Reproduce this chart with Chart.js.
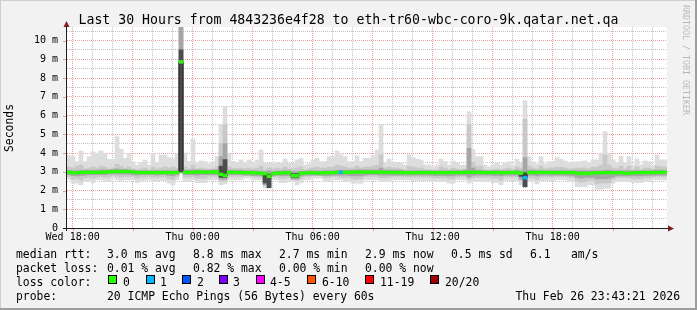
<!DOCTYPE html>
<html>
<head>
<meta charset="utf-8">
<script src="https://cdn.jsdelivr.net/npm/chart.js@4/dist/chart.umd.min.js"></script>
<style>
  html, body { margin: 0; padding: 0; background: #f2f2f2; }
</style>
</head>
<body>
<canvas id="smoke" width="697" height="310"></canvas>
<script>
// 150 steps of 12 minutes, Wed 17:43 -> Thu 23:43 (hours counted from Wed 00:00)
const startHour = 17 + 43 / 60;
const stepHours = 0.2;

// outer smoke (ms)
const smokeHi = [
  3.86,3.81,3.54,4.11,3.54,3.80,4.06,3.99,4.11,3.99,3.67,3.67,4.87,4.20,3.72,3.99,3.49,3.36,3.49,3.63,3.36,3.99,3.49,3.90,3.90,
  3.75,3.70,3.95,10.7,4.00,3.55,4.75,3.45,3.58,3.54,3.42,3.50,3.81,5.50,6.50,3.99,3.55,3.45,3.63,3.45,3.63,3.45,3.63,4.16,3.45,
  3.45,3.45,3.50,3.45,3.68,3.45,3.45,3.63,3.72,3.36,3.42,3.63,3.72,3.54,3.54,3.81,3.81,4.11,3.90,3.81,3.54,3.54,3.86,3.54,3.72,
  3.72,3.85,4.16,5.49,3.49,3.68,3.49,3.49,3.45,3.36,3.90,3.76,3.68,3.63,3.36,3.36,3.27,3.36,3.68,3.54,3.36,3.58,3.45,3.36,3.36,
  6.20,4.20,3.81,3.81,3.36,3.27,3.36,3.45,3.36,3.45,3.54,3.36,3.67,3.45,6.80,3.81,3.49,3.42,3.81,3.42,3.54,3.54,3.76,3.67,3.58,
  3.49,3.49,3.54,3.54,3.58,3.45,3.63,3.63,3.99,5.14,3.99,3.63,3.45,3.84,3.45,3.81,3.36,3.68,3.36,3.58,3.54,3.36,3.90,3.63,3.63
];
const smokeLo = [
  2.60,2.39,2.39,2.30,2.48,2.48,2.42,2.57,2.57,2.48,2.48,2.66,2.57,2.52,2.57,2.57,2.57,2.42,2.53,2.53,2.57,2.48,2.48,2.53,2.53,
  2.39,2.30,2.57,2.92,2.48,2.48,2.57,2.42,2.42,2.42,2.57,2.57,2.57,2.30,2.35,2.57,2.57,2.57,2.57,2.66,2.66,2.57,2.57,2.57,2.12,
  2.12,2.57,2.57,2.42,2.42,2.48,2.48,2.30,2.40,2.57,2.57,2.66,2.66,2.66,2.48,2.48,2.57,2.57,2.57,2.48,2.48,2.39,2.39,2.39,2.57,
  2.57,2.57,2.57,2.48,2.48,2.48,2.57,2.57,2.57,2.57,2.57,2.53,2.53,2.53,2.53,2.53,2.48,2.48,2.48,2.48,2.39,2.39,2.57,2.57,2.57,
  2.39,2.48,2.48,2.48,2.48,2.48,2.42,2.42,2.30,2.53,2.53,2.53,2.53,2.30,2.14,2.48,2.48,2.35,2.53,2.53,2.53,2.53,2.57,2.57,2.57,
  2.48,2.48,2.21,2.21,2.21,2.30,2.30,2.07,2.07,2.12,2.12,2.39,2.48,2.48,2.48,2.48,2.42,2.42,2.42,2.48,2.48,2.57,2.57,2.57,2.57
];
// middle smoke
const midHi = [
  3.25,3.20,3.30,3.35,3.15,3.20,3.25,3.20,3.30,3.25,3.15,3.20,3.40,3.30,3.20,3.25,3.15,3.10,3.15,3.20,3.10,3.25,3.15,3.20,3.25,
  3.20,3.25,3.20,10.7,3.25,3.15,3.35,3.15,3.20,3.15,3.10,3.15,3.25,4.50,5.50,3.25,3.20,3.15,3.20,3.15,3.20,3.15,3.20,3.30,3.10,
  3.20,3.15,3.20,3.15,3.25,3.15,3.15,3.20,3.25,3.10,3.15,3.20,3.25,3.20,3.20,3.25,3.25,3.35,3.30,3.25,3.20,3.20,3.30,3.20,3.25,
  3.25,3.30,3.35,3.90,3.20,3.25,3.20,3.20,3.15,3.10,3.30,3.25,3.20,3.20,3.10,3.10,3.05,3.10,3.25,3.20,3.10,3.20,3.15,3.10,3.15,
  5.50,3.50,3.30,3.30,3.10,3.05,3.10,3.15,3.10,3.15,3.20,3.10,3.25,3.20,5.80,3.30,3.20,3.15,3.30,3.15,3.20,3.20,3.25,3.25,3.20,
  3.15,3.15,3.20,3.20,3.20,3.15,3.25,3.25,3.35,3.90,3.35,3.20,3.15,3.30,3.15,3.30,3.10,3.25,3.10,3.20,3.20,3.10,3.30,3.25,3.25
];
const midLo = [
  2.75,2.60,2.62,2.55,2.68,2.70,2.65,2.72,2.75,2.70,2.72,2.80,2.75,2.72,2.75,2.75,2.75,2.65,2.72,2.72,2.75,2.70,2.70,2.72,2.72,
  2.62,2.58,2.75,2.95,2.70,2.70,2.75,2.65,2.65,2.65,2.75,2.75,2.75,2.50,2.50,2.75,2.75,2.75,2.75,2.80,2.80,2.75,2.72,2.72,2.30,
  2.25,2.72,2.75,2.65,2.65,2.70,2.62,2.55,2.62,2.75,2.75,2.80,2.80,2.80,2.70,2.70,2.75,2.75,2.70,2.70,2.70,2.60,2.60,2.62,2.75,
  2.75,2.75,2.75,2.68,2.68,2.70,2.75,2.75,2.75,2.72,2.72,2.72,2.72,2.72,2.72,2.72,2.68,2.68,2.68,2.68,2.62,2.62,2.72,2.75,2.75,
  2.60,2.68,2.70,2.70,2.70,2.70,2.65,2.65,2.55,2.72,2.72,2.72,2.72,2.55,2.30,2.68,2.68,2.58,2.72,2.72,2.72,2.72,2.75,2.75,2.75,
  2.70,2.70,2.50,2.45,2.48,2.55,2.52,2.35,2.40,2.40,2.42,2.60,2.68,2.68,2.70,2.68,2.62,2.62,2.62,2.68,2.68,2.72,2.75,2.75,2.75
];
// dense smoke close to the median
const coreHi = [
  3.08,3.05,3.05,3.08,3.08,3.08,3.08,3.08,3.10,3.10,3.10,3.12,3.15,3.12,3.12,3.10,3.08,3.05,3.05,3.05,3.05,3.05,3.05,3.05,3.05,
  3.05,3.05,3.05,10.7,3.08,3.08,3.10,3.10,3.08,3.08,3.10,3.10,3.10,3.80,4.50,3.08,3.08,3.08,3.08,3.05,3.05,3.05,3.03,3.03,3.00,
  3.05,3.00,3.03,3.03,3.05,3.05,3.00,3.00,3.03,3.03,3.05,3.05,3.03,3.03,3.05,3.05,3.05,3.08,3.08,3.08,3.08,3.08,3.10,3.10,3.10,
  3.10,3.10,3.10,3.20,3.08,3.08,3.08,3.08,3.08,3.05,3.05,3.05,3.05,3.05,3.05,3.05,3.05,3.05,3.05,3.05,3.05,3.05,3.05,3.05,3.08,
  4.25,3.20,3.08,3.08,3.05,3.05,3.05,3.05,3.05,3.05,3.05,3.05,3.08,3.05,3.75,3.08,3.08,3.05,3.05,3.05,3.05,3.05,3.05,3.05,3.05,
  3.05,3.05,3.05,3.05,3.05,3.05,3.05,3.05,3.05,3.08,3.08,3.05,3.05,3.05,3.05,3.05,3.05,3.05,3.05,3.05,3.05,3.08,3.08,3.08,3.08
];
const coreLo = [
  2.85,2.80,2.78,2.80,2.82,2.85,2.85,2.85,2.85,2.85,2.88,2.88,2.88,2.88,2.88,2.88,2.85,2.82,2.85,2.85,2.85,2.85,2.82,2.85,2.85,
  2.80,2.78,2.85,2.95,2.85,2.85,2.85,2.82,2.85,2.85,2.85,2.85,2.85,2.60,2.60,2.85,2.85,2.85,2.85,2.82,2.82,2.80,2.80,2.78,2.30,
  2.15,2.78,2.82,2.80,2.80,2.80,2.60,2.60,2.78,2.82,2.82,2.82,2.82,2.82,2.80,2.80,2.82,2.82,2.82,2.82,2.80,2.78,2.78,2.78,2.82,
  2.85,2.85,2.85,2.82,2.82,2.82,2.82,2.82,2.82,2.82,2.82,2.82,2.82,2.82,2.82,2.82,2.80,2.80,2.80,2.80,2.78,2.78,2.82,2.82,2.82,
  2.72,2.80,2.82,2.82,2.82,2.82,2.80,2.80,2.78,2.82,2.82,2.82,2.82,2.60,2.20,2.82,2.82,2.78,2.82,2.82,2.82,2.82,2.82,2.82,2.82,
  2.80,2.78,2.70,2.65,2.70,2.70,2.70,2.62,2.62,2.62,2.65,2.72,2.78,2.78,2.78,2.78,2.78,2.78,2.78,2.80,2.80,2.82,2.82,2.82,2.82
];
// darkest smoke, only where it shows: [step, lo, hi]
const deepBands = [[28, 3.0, 9.5], [38, 2.7, 3.3], [39, 2.7, 3.65], [49, 2.4, 2.92], [50, 2.15, 2.85],
  [56, 2.7, 2.9], [57, 2.7, 2.9], [113, 2.75, 2.95], [114, 2.2, 2.95]];

// median rtt (ms)
const medianRtt = [
  2.97,2.95,2.95,2.96,2.97,2.97,2.97,2.97,2.97,2.98,2.99,
  3.01,3.01,3.01,3.01,3.00,2.99,
  2.96,2.96,2.96,2.96,2.96,2.96,2.96,2.96,2.96,2.96,2.96,
  8.86,
  2.97,2.97,2.97,2.99,2.99,2.97,2.97,2.99,2.99,
  2.86,2.80,
  2.97,2.97,2.97,2.97,2.95,2.95,2.95,2.93,2.93,
  2.90,2.75,2.90,
  2.93,2.93,2.95,2.95,
  2.79,2.79,
  2.93,2.93,2.95,2.95,2.93,2.93,2.95,2.95,2.95,2.97,2.97,
  2.97,2.97,2.97,2.98,2.98,2.98,2.98,2.98,2.98,2.97,2.97,2.97,2.96,2.96,2.96,2.95,2.95,2.95,2.95,2.96,2.96,2.96,2.96,2.95,2.95,2.95,2.96,2.96,2.96,2.96,2.97,
  2.97,2.97,2.97,2.97,2.96,2.96,2.96,2.96,2.95,2.95,2.96,2.96,2.97,2.92,
  2.68,
  2.96,2.96,2.96,2.97,2.97,2.96,2.96,2.96,2.96,2.96,
  2.96,2.96,2.93,2.90,2.93,2.90,2.93,2.95,2.95,2.95,2.95,2.95,2.95,2.95,2.92,2.92,2.95,2.95,2.96,2.96,2.96,2.96,2.96,2.97,2.97
];
// lost pings per step, where not zero: [step, lost]
const lostPings = [[68, 1], [114, 1]];

const lossLabels = ['0', '1', '2', '3', '4-5', '6-10', '11-19', '20/20'];
const lossColors = ['#26ff00', '#00b8ff', '#0059ff', '#7e00ff', '#ff00ff', '#ff5500', '#ff0000', '#a10000'];

const hourTicks = [];
for (let h = 18; h <= 47; h++) hourTicks.push(h);
const hourLabels = {18: 'Wed 18:00', 24: 'Thu 00:00', 30: 'Thu 06:00', 36: 'Thu 12:00', 42: 'Thu 18:00'};
const msTicks = [];
for (let v = 0; v <= 10.5; v += 0.5) msTicks.push(v);

const times = medianRtt.map((_, i) => startHour + stepHours * i + stepHours / 2);
const lossAt = medianRtt.map(() => 0);
lostPings.forEach(([i, n]) => { lossAt[i] = n; });
function lossColor(n) {
  if (n === 0) return lossColors[0];
  if (n <= 3) return lossColors[n];
  if (n <= 5) return lossColors[4];
  if (n <= 10) return lossColors[5];
  if (n <= 19) return lossColors[6];
  return lossColors[7];
}

const band = (lo, hi) => times.map((t, i) => ({x: t, y: [lo[i], hi[i]]}));
const smokeBar = (data, color, order) => ({
  type: 'bar', data, backgroundColor: color, borderWidth: 0, grouped: false,
  barPercentage: 1, categoryPercentage: 1, order
});

const majorGrid = 'rgba(222,79,79,0.55)';
const minorGrid = 'rgba(143,143,143,0.55)';
const mono = '"DejaVu Sans Mono", "Liberation Mono", monospace';

const frame = {
  id: 'frame',
  beforeDraw(chart) {
    const {ctx, chartArea: a} = chart;
    ctx.save();
    ctx.fillStyle = '#f2f2f2';
    ctx.fillRect(0, 0, chart.width, chart.height);
    ctx.fillStyle = '#ffffff';
    ctx.fillRect(a.left, a.top, a.right - a.left, a.bottom - a.top);
    ctx.restore();
  },
  afterDraw(chart) {
    const {ctx, chartArea: a} = chart;
    const xs = chart.scales.x, ys = chart.scales.y;
    ctx.save();

    // tick stubs outside the plot
    ctx.lineWidth = 1;
    ctx.strokeStyle = majorGrid;
    hourTicks.filter(h => h % 3 === 0).forEach(h => {
      const x = Math.round(xs.getPixelForValue(h)) + 0.5;
      ctx.beginPath(); ctx.moveTo(x, a.bottom); ctx.lineTo(x, a.bottom + 3); ctx.stroke();
    });
    msTicks.filter(v => v % 1 === 0 && v > 0).forEach(v => {
      const y = Math.round(ys.getPixelForValue(v)) + 0.5;
      ctx.beginPath(); ctx.moveTo(a.left - 4, y); ctx.lineTo(a.left, y); ctx.stroke();
    });

    // axes and arrows
    ctx.strokeStyle = '#1f1f1f';
    ctx.beginPath();
    ctx.moveTo(a.left - 0.5, a.bottom + 3); ctx.lineTo(a.left - 0.5, a.top - 3);
    ctx.moveTo(a.left - 4, a.bottom + 0.5); ctx.lineTo(a.right + 2, a.bottom + 0.5);
    ctx.stroke();
    ctx.fillStyle = '#801f1f';
    ctx.beginPath();
    ctx.moveTo(a.left - 0.5, a.top - 6); ctx.lineTo(a.left - 3.5, a.top); ctx.lineTo(a.left + 2.5, a.top);
    ctx.closePath(); ctx.fill();
    ctx.beginPath();
    ctx.moveTo(a.right + 7, a.bottom + 0.5); ctx.lineTo(a.right + 1, a.bottom - 2.5); ctx.lineTo(a.right + 1, a.bottom + 3.5);
    ctx.closePath(); ctx.fill();

    // title
    ctx.fillStyle = '#000';
    ctx.textBaseline = 'alphabetic';
    ctx.textAlign = 'center';
    ctx.font = '13.2px ' + mono;
    ctx.fillText('Last 30 Hours from 4843236e4f28 to eth-tr60-wbc-coro-9k.qatar.net.qa', 348.5, 24);

    // vertical axis title
    ctx.save();
    ctx.font = '11.4px ' + mono;
    ctx.translate(10.5, 128);
    ctx.rotate(-Math.PI / 2);
    ctx.textBaseline = 'middle';
    ctx.fillText('Seconds', 0, 0);
    ctx.restore();

    // watermark
    ctx.save();
    ctx.font = '8.3px ' + mono;
    ctx.fillStyle = 'rgba(0,0,0,0.25)';
    ctx.translate(685, 5);
    ctx.rotate(Math.PI / 2);
    ctx.textAlign = 'left';
    ctx.textBaseline = 'middle';
    ctx.fillText('RRDTOOL / TOBI OETIKER', 0, 0);
    ctx.restore();

    // legend
    ctx.font = '11.4px ' + mono;
    ctx.textAlign = 'left';
    const put = (t, x, y) => ctx.fillText(t, x, y);
    put('median rtt:', 16, 258);
    put('3.0 ms avg', 107, 258); put('8.8 ms max', 193, 258); put('2.7 ms min', 279, 258);
    put('2.9 ms now', 365, 258); put('0.5 ms sd', 451, 258); put('6.1', 530, 258); put('am/s', 571, 258);
    put('packet loss:', 16, 272);
    put('0.01 % avg', 107, 272); put('0.82 % max', 193, 272); put('0.00 % min', 279, 272); put('0.00 % now', 365, 272);
    put('loss color:', 16, 286);
    const boxX = [108, 146, 182, 219, 256, 307, 365, 430];
    const textX = [123, 160, 197, 233, 270, 322, 380, 445];
    lossLabels.forEach((l, i) => {
      ctx.fillStyle = '#000';
      ctx.fillRect(boxX[i], 275, 9, 9);
      ctx.fillStyle = lossColors[i];
      ctx.fillRect(boxX[i] + 1, 276, 7, 7);
      ctx.fillStyle = '#000';
      put(l, textX[i], 286);
    });
    put('probe:', 16, 299.5);
    put('20 ICMP Echo Pings (56 Bytes) every 60s', 107, 299.5);
    ctx.textAlign = 'right';
    put('Thu Feb 26 23:43:21 2026', 680, 299.5);

    // bevel
    ctx.fillStyle = '#cfcfcf';
    ctx.fillRect(0, 0, chart.width, 1);
    ctx.fillRect(0, 0, 1, chart.height);
    ctx.fillStyle = '#9e9e9e';
    ctx.fillRect(chart.width - 2, 0, 2, chart.height);
    ctx.fillRect(0, chart.height - 2, chart.width, 2);
    ctx.restore();
  }
};

const ctx = document.getElementById('smoke').getContext('2d');
const chart = new Chart(ctx, {
  data: {
    datasets: [
      {
        type: 'bar', label: 'median',
        data: times.map((t, i) => ({x: t, y: [medianRtt[i] - 0.07, medianRtt[i] + 0.07]})),
        backgroundColor: lossAt.map(lossColor), borderWidth: 0, grouped: false,
        barPercentage: 1, categoryPercentage: 1, order: 0
      },
      {
        type: 'line', label: 'median line',
        data: times.map((t, i) => ({x: t, y: medianRtt[i]})),
        borderColor: '#202020', borderWidth: 1, pointRadius: 0, stepped: 'middle', fill: false, order: 1
      },
      smokeBar(deepBands.map(([i, lo, hi]) => ({x: times[i], y: [lo, hi]})), '#4d4d4d', 2),
      smokeBar(band(coreLo, coreHi), '#a6a6a6', 3),
      smokeBar(band(midLo, midHi), '#c8c8c8', 4),
      smokeBar(band(smokeLo, smokeHi), '#dddddd', 5)
    ]
  },
  options: {
    responsive: false,
    animation: false,
    devicePixelRatio: 1,
    layout: {padding: {top: 27, right: 30, left: 0, bottom: 0}},
    plugins: {legend: {display: false}, tooltip: {enabled: false}},
    scales: {
      x: {
        type: 'linear',
        offset: false,
        min: startHour,
        max: startHour + 30,
        afterBuildTicks: s => { s.ticks = hourTicks.map(v => ({value: v})); },
        afterFit: s => { s.height = 82; },
        grid: {
          color: c => (c.tick && c.tick.value % 3 === 0) ? majorGrid : minorGrid,
          lineWidth: 1, drawTicks: false, offset: false
        },
        border: {display: false, dash: [1, 1]},
        ticks: {
          autoSkip: false, maxRotation: 0, padding: 3, color: '#000',
          font: {family: mono, size: 10},
          callback: v => hourLabels[v] || ''
        }
      },
      y: {
        type: 'linear',
        min: 0,
        max: 10.72,
        afterBuildTicks: s => { s.ticks = msTicks.map(v => ({value: v})); },
        afterFit: s => { s.width = 67; },
        grid: {
          color: c => (c.tick && c.tick.value === 0) ? 'rgba(0,0,0,0)' :
            (c.tick && c.tick.value % 1 === 0) ? majorGrid : minorGrid,
          lineWidth: 1, drawTicks: false
        },
        border: {display: false, dash: [1, 1]},
        ticks: {
          autoSkip: false, padding: 9, color: '#000',
          font: {family: mono, size: 10},
          callback: v => v === 0 ? '0' : (v % 1 === 0 ? v + ' m' : '')
        }
      }
    }
  },
  plugins: [frame]
});
</script>
</body>
</html>
